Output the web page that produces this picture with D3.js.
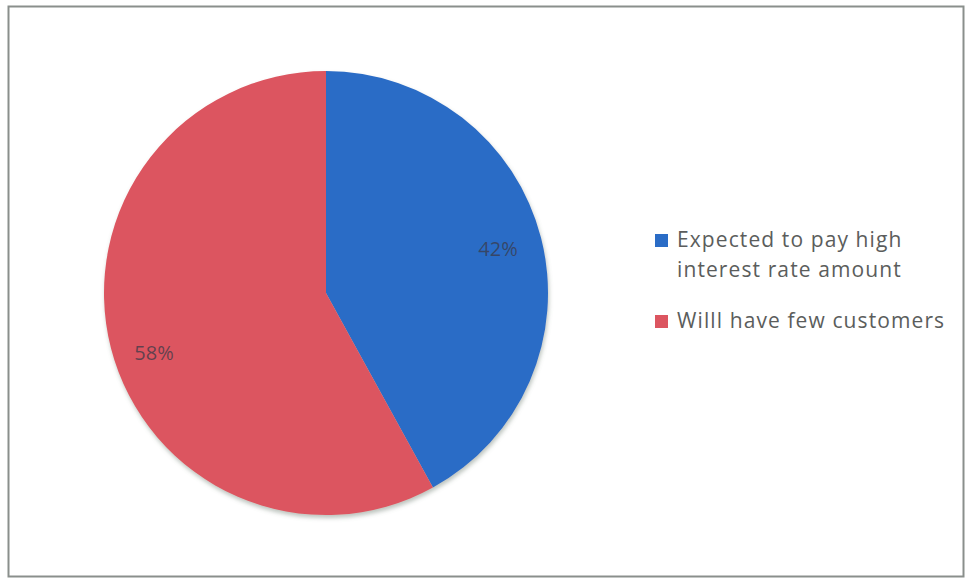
<!DOCTYPE html>
<html>
<head>
<meta charset="utf-8">
<script src="https://cdn.jsdelivr.net/npm/d3@7"></script>
<style>
  body { margin: 0; background: #fff; }
</style>
</head>
<body>
<div id="chart"></div>
<script>
var categories = ["Expected to pay high interest rate amount", "Willl have few customers"];
var legendLines = [["Expected to pay high", "interest rate amount"], ["Willl have few customers"]];
var values = [42, 58];
var colors = ["#2a6cc6", "#dc5560"];

function init(){
    var w = 967, h = 579;
    var cx = 326, cy = 293, r = 222;

    var svg = d3.select("#chart").append("svg")
        .attr("width", w).attr("height", h);

    var defs = svg.append("defs");
    var f = defs.append("filter").attr("id", "shadow")
        .attr("x", "-10%").attr("y", "-10%").attr("width", "120%").attr("height", "120%");
    f.append("feDropShadow").attr("dx", 1).attr("dy", 3).attr("stdDeviation", 2)
        .attr("flood-color", "#6a7a70").attr("flood-opacity", 0.45);

    // outer frame
    svg.append("rect")
        .attr("x", 8.5).attr("y", 6.5)
        .attr("width", 955).attr("height", 570)
        .attr("fill", "none").attr("stroke", "#8a8f8c").attr("stroke-width", 2);

    var pie = d3.pie().sort(null).value(function(d){ return d; });
    var arcs = pie(values);
    var arc = d3.arc().innerRadius(0).outerRadius(r);
    var labelArc = d3.arc().innerRadius(r * 0.8).outerRadius(r * 0.8);

    var g = svg.append("g").attr("transform", `translate(${cx},${cy})`);

    g.append("g").attr("filter", "url(#shadow)")
        .selectAll("path")
        .data(arcs)
        .enter().append("path")
        .attr("d", arc)
        .attr("fill", function(d, i){ return colors[i]; });

    g.selectAll("text.lbl")
        .data(arcs)
        .enter().append("text")
        .attr("class", "lbl")
        .attr("transform", function(d){
            var c = labelArc.centroid(d);
            // the big slice's label sits a bit lower in the original
            if (d.index === 1) c[1] += 16;
            return `translate(${c})`;
        })
        .attr("text-anchor", "middle")
        .attr("dy", "0.35em")
        .attr("font-family", "'Open Sans', sans-serif")
        .attr("font-size", 20)
        .attr("fill", "#3a3a48")
        .attr("fill-opacity", 0.75)
        .text(function(d){ return d.data + "%"; });

    // legend
    var legend = svg.append("g").attr("transform", "translate(655,0)");
    var rowY = [240, 321];
    legendLines.forEach(function(lines, i){
        legend.append("rect")
            .attr("x", 0).attr("y", rowY[i] - 6)
            .attr("width", 13).attr("height", 13)
            .attr("fill", colors[i]);
        legend.append("text")
            .attr("x", 22).attr("y", rowY[i])
            .attr("dy", "0.35em")
            .attr("font-family", "'Open Sans', sans-serif")
            .attr("font-size", 21)
            .attr("letter-spacing", 1.1)
            .attr("fill", "#5b5d5c")
            .selectAll("tspan")
            .data(lines)
            .enter().append("tspan")
            .attr("x", 22)
            .attr("dy", function(d, j){ return j === 0 ? "0.35em" : 30; })
            .text(function(d){ return d; });
    });
}
window.onload = init;
</script>
</body>
</html>
